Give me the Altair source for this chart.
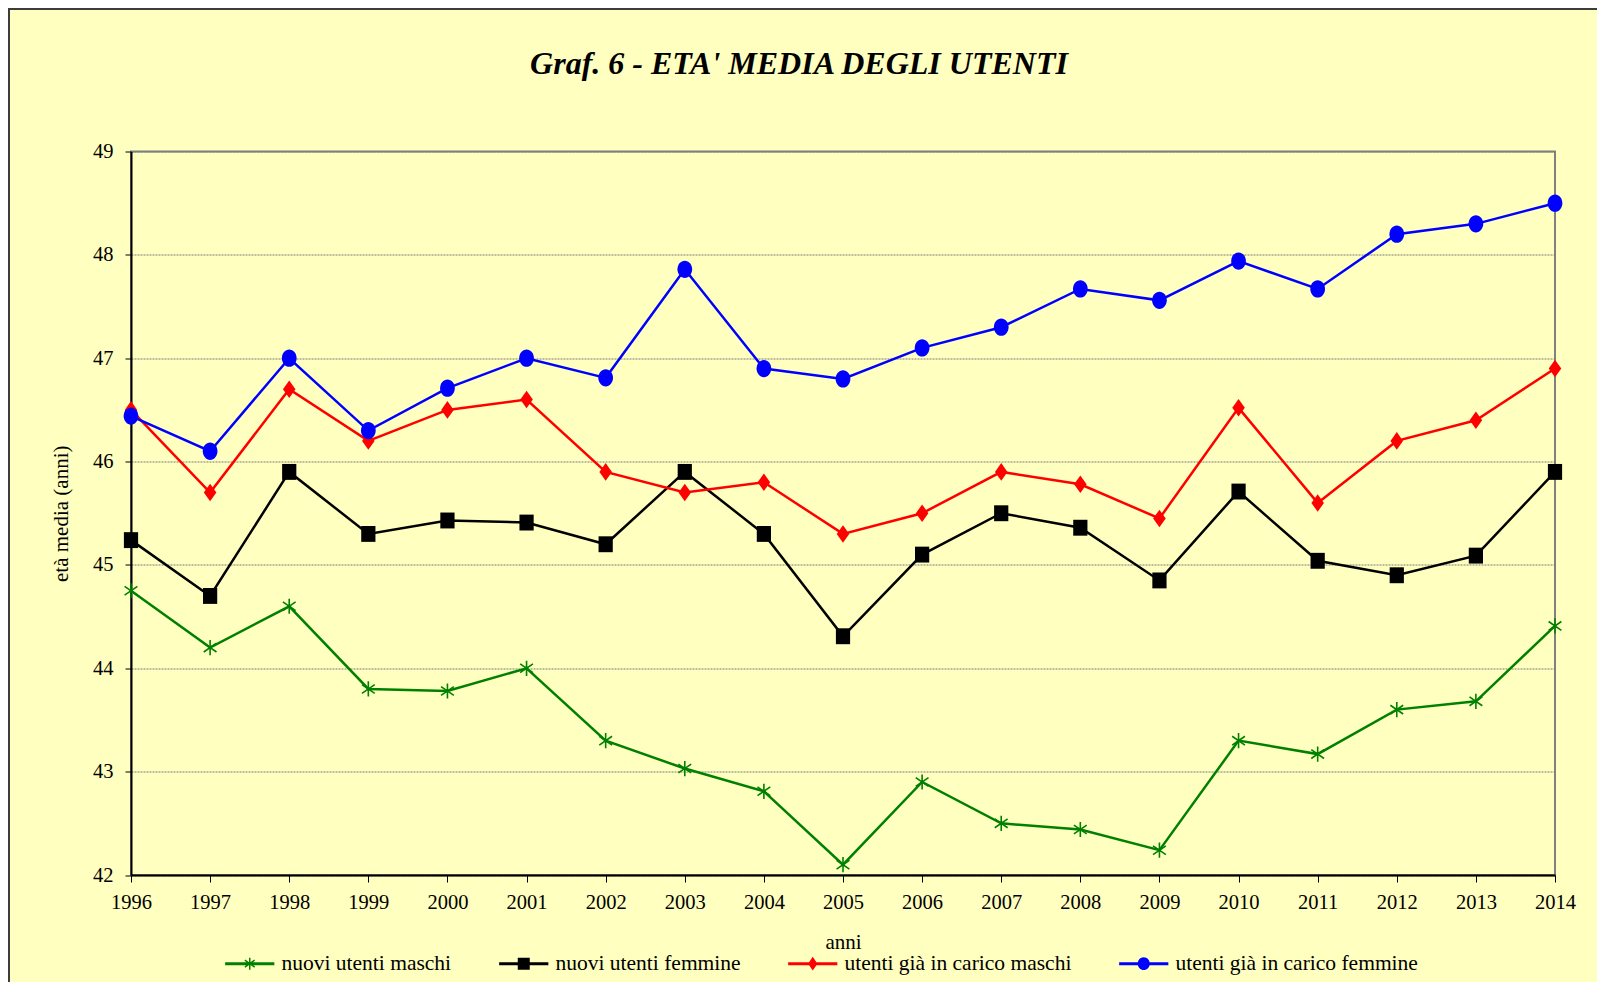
import math
import altair as alt
import pandas as pd

# ---------------- data ----------------
anni = list(range(1996, 2015))
serie = [
    "nuovi utenti maschi",
    "nuovi utenti femmine",
    "utenti già in carico maschi",
    "utenti già in carico femmine",
]
nuovi_maschi = [44.75, 44.2, 44.6, 43.8, 43.78, 44.0, 43.3, 43.03, 42.81, 42.1,
                42.9, 42.5, 42.44, 42.24, 43.3, 43.17, 43.6, 43.68, 44.41]
nuovi_femmine = [45.24, 44.7, 45.9, 45.3, 45.43, 45.41, 45.2, 45.9, 45.3, 44.31,
                 45.1, 45.5, 45.36, 44.85, 45.71, 45.04, 44.9, 45.09, 45.9]
carico_maschi = [46.5, 45.7, 46.7, 46.2, 46.5, 46.6, 45.9, 45.7, 45.8, 45.3,
                 45.5, 45.9, 45.78, 45.45, 46.52, 45.6, 46.2, 46.4, 46.9]
carico_femmine = [46.44, 46.1, 47.0, 46.3, 46.71, 47.0, 46.81, 47.86, 46.9, 46.8,
                  47.1, 47.3, 47.67, 47.56, 47.94, 47.67, 48.2, 48.3, 48.5]
valori = [nuovi_maschi, nuovi_femmine, carico_maschi, carico_femmine]
colori = ["#008000", "#000000", "#FF0000", "#0000FF"]
y_ticks = [42, 43, 44, 45, 46, 47, 48, 49]
titolo = "Graf. 6 - ETA' MEDIA DEGLI UTENTI"

rows = []
for s, vals in zip(serie, valori):
    for a, v in zip(anni, vals):
        rows.append({"anno": a, "serie": s, "eta": v})
df = pd.DataFrame(rows)

# ---------------- symbol paths ----------------
def poly(pts):
    return "M" + "L".join(f"{x:.3f},{y:.3f}" for x, y in pts) + "Z"

def rot_rect(hl, ht, ang_deg):
    a = math.radians(ang_deg)
    c, s = math.cos(a), math.sin(a)
    pts = [(-hl, -ht), (hl, -ht), (hl, ht), (-hl, ht)]
    return poly([(x * c - y * s, x * s + y * c) for x, y in pts])

def ellipse(rx, ry):
    return (f"M{rx},0A{rx},{ry} 0 1,1 {-rx},0A{rx},{ry} 0 1,1 {rx},0Z")

# markers on the chart
m_square = poly([(-0.85, -0.95), (0.85, -0.95), (0.85, 0.95), (-0.85, 0.95)])
m_diamond = poly([(0, -1.05), (0.75, 0), (0, 1.05), (-0.75, 0)])
m_circle = ellipse(0.85, 1.0)
m_star = "M0,-0.95L0,0.95M-0.8,-0.55L0.8,0.55M-0.8,0.55L0.8,-0.55"

# legend symbols: line + marker (size 144 -> unit 6px)
bar = rot_rect(4.1, 0.25, 0)
lg_star = bar + rot_rect(1.0, 0.12, 90) + rot_rect(1.0, 0.12, 35) + rot_rect(1.0, 0.12, -35)
lg_square = bar + poly([(-1.0, -1.0), (1.0, -1.0), (1.0, 1.0), (-1.0, 1.0)])
lg_diamond = bar + poly([(0, -1.15), (0.78, 0), (0, 1.15), (-0.78, 0)])
lg_circle = bar + ellipse(1.0, 1.05)
legend_paths = [lg_star, lg_square, lg_diamond, lg_circle]

FONT = "Liberation Serif"

x_enc = alt.X(
    "anno:O",
    scale=alt.Scale(type="point", padding=0),
    axis=alt.Axis(title="anni", labelAngle=0, grid=False),
)
y_enc = alt.Y(
    "eta:Q",
    scale=alt.Scale(domain=[42, 49], nice=False, zero=False),
    axis=alt.Axis(title="età media (anni)", values=y_ticks, format="d", grid=True),
)

base = alt.Chart(df)
layers = []
marker_specs = [
    (m_star, False, 256, 1.6),
    (m_square, True, 280, 0),
    (m_diamond, True, 280, 0),
    (m_circle, True, 300, 0),
]
for s, col, (shape, filled, size, sw) in zip(serie, colori, marker_specs):
    sub = base.transform_filter(alt.datum.serie == s)
    layers.append(sub.mark_line(color=col, strokeWidth=2.5).encode(x=x_enc, y=y_enc))
    if filled:
        pt = sub.mark_point(shape=shape, filled=True, size=size, color=col, opacity=1)
    else:
        pt = sub.mark_point(shape=shape, filled=False, size=size, color=col,
                            strokeWidth=sw, opacity=1)
    layers.append(pt.encode(x=x_enc, y=y_enc))

legend_props = dict(
    orient="none", legendX=89, legendY=801, direction="horizontal", title=None,
    labelFont=FONT, labelFontSize=21.5, labelColor="black", labelBaseline="middle",
    labelLimit=0,
    symbolSize=144, symbolStrokeWidth=0, symbolOpacity=1,
    symbolOffset=19, labelOffset=21, columnPadding=42, padding=0,
)
legend_layer = alt.Chart(df).transform_filter("false").mark_point(
    filled=True, opacity=1, size=144
).encode(
    fill=alt.Fill("serie:N", scale=alt.Scale(domain=serie, range=colori),
                  legend=alt.Legend(**legend_props)),
    shape=alt.Shape("serie:N", scale=alt.Scale(domain=serie, range=legend_paths),
                    legend=alt.Legend(**legend_props)),
)
layers.append(legend_layer)

one = alt.Chart(pd.DataFrame({"k": [0]}))
title_layer = one.mark_text(
    text=titolo, font=FONT, fontSize=32, fontStyle="italic", fontWeight="bold",
    align="center", baseline="alphabetic", color="black",
).encode(x=alt.value(668), y=alt.value(-77.5))
border_top = one.mark_rule(color="#3c3c3c", strokeWidth=2).encode(
    x=alt.value(-123), x2=alt.value(1470), y=alt.value(-142.5))
border_left = one.mark_rule(color="#3c3c3c", strokeWidth=2).encode(
    x=alt.value(-122), y=alt.value(-143.5), y2=alt.value(835))
layers += [title_layer, border_top, border_left]

chart = alt.layer(*layers).properties(
    width=1424, height=723.5,
    autosize=alt.AutoSizeParams(type="none"),
    padding={"left": 123, "top": 143.5, "right": 42, "bottom": 107},
    background="#FFFFC0",
).configure_view(
    fill="#E2E2E2", stroke="#808080", strokeWidth=2,
).configure_axis(
    labelFont=FONT, titleFont=FONT, labelColor="black", titleColor="black",
    titleFontWeight="normal", domainColor="black", domainWidth=2,
    tickColor="black", tickWidth=1,
).configure_axisX(
    labelFontSize=20.5, titleFontSize=21, tickSize=7, labelPadding=10, titlePadding=19,
).configure_axisY(
    labelFontSize=20.5, titleFontSize=21, tickSize=6, labelPadding=12, titlePadding=21,
    gridColor="#7a7a7a", gridDash=[2, 1], gridWidth=1,
)

chart.save("out.html", embed_options={"renderer": "svg", "actions": False})
